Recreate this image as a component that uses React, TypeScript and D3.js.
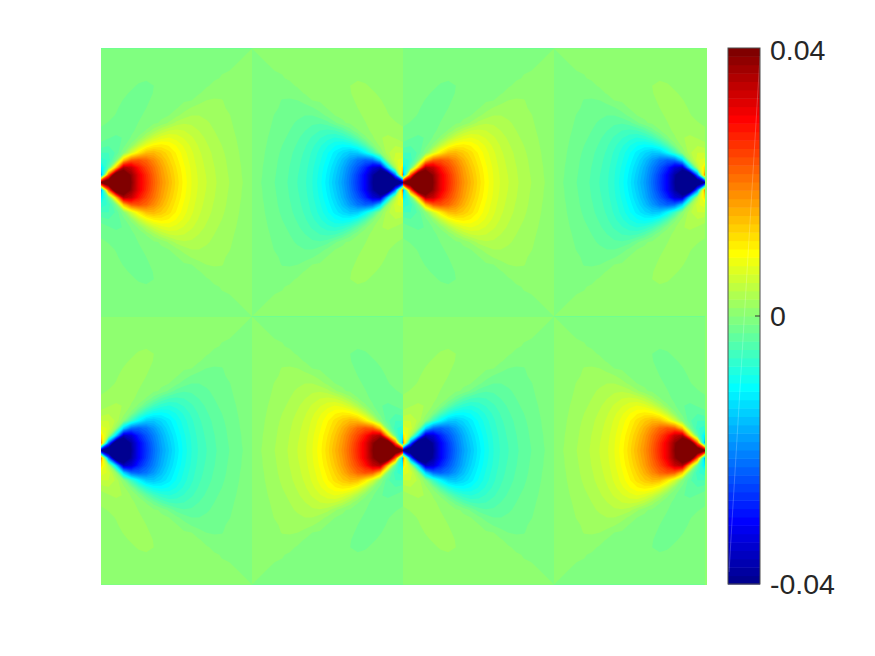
import * as d3 from 'd3';
import React from 'react';

// One quarter of a tile in units of 1e-3.
// Rows go from the top edge of the tile down to the line through the tip, columns from the tip side outwards.
const quarterField: number[][] = [
  [-.1, -.1, -.1, -.1, -.1, -.1, -.1, -.1, -.1, -.1, -.1, -.1, -.1, -.1, -.1, -.08, -.06, -.05, -.03, -.02, 0],
  [-.2, -.2, -.25, -.25, -.3, -.3, -.3, -.3, -.3, -.25, -.25, -.2, -.2, -.15, -.15, -.1, -.08, -.05, -.03, 0, .04],
  [-.3, -.3, -.35, -.4, -.45, -.5, -.5, -.5, -.45, -.4, -.35, -.3, -.25, -.2, -.15, -.1, -.07, -.04, 0, .08, .08],
  [-.4, -.45, -.5, -.6, -.7, -.8, -.85, -.8, -.65, -.5, -.4, -.3, -.25, -.2, -.15, -.1, -.05, 0, .15, .15, .1],
  [-.5, -.55, -.65, -.75, -.9, -1.05, -1.15, -1.05, -.8, -.55, -.4, -.3, -.25, -.2, -.15, -.1, .05, .3, .35, .25, .15],
  [-.6, -.65, -.75, -.9, -1.1, -1.35, -1.45, -1.25, -.85, -.55, -.4, -.3, -.25, -.2, -.1, .2, .5, .6, .5, .3, .2],
  [-.65, -.75, -.9, -1.1, -1.35, -1.6, -1.55, -1.2, -.75, -.5, -.35, -.25, -.2, -.1, .4, .9, 1, .9, .6, .4, .2],
  [-.7, -.85, -1, -1.3, -1.6, -1.65, -1.45, -1, -.65, -.4, -.25, -.15, 0, .8, 1.3, 1.4, 1.3, 1, .7, .5, .2],
  [-.8, -.95, -1.15, -1.5, -1.7, -1.6, -1.25, -.8, -.45, -.25, -.1, .6, 1.4, 1.8, 1.8, 1.6, 1.4, 1.1, .8, .5, .2],
  [-.9, -1.05, -1.3, -1.7, -1.75, -1.45, -1, -.55, -.2, 0, .9, 1.9, 2.5, 2.5, 2.2, 1.9, 1.6, 1.3, .9, .6, .2],
  [-1.1, -1.3, -1.6, -1.9, -1.7, -1.2, -.7, -.25, .2, 1.5, 3, 3.6, 3.5, 3.1, 2.7, 2.2, 1.8, 1.4, 1, .6, .2],
  [-1.4, -1.7, -2, -2.1, -1.6, -.8, .1, 1.9, 3.8, 5, 5.3, 5, 4.4, 3.7, 3.1, 2.5, 2, 1.5, 1.1, .7, .2],
  [-1.9, -2.4, -2.8, -2.4, -1.1, .3, 3, 5.5, 7, 7.6, 7, 6.1, 5.2, 4.3, 3.5, 2.8, 2.2, 1.7, 1.2, .7, .2],
  [-3, -3.6, -3.4, -1.7, .4, 4.5, 8, 10, 10.5, 9.8, 8.6, 7.2, 5.9, 4.8, 3.9, 3.1, 2.5, 1.9, 1.3, .8, .2],
  [-5, -5, -3.5, 0, 6, 11, 14.5, 15, 13.5, 11.8, 9.8, 8, 6.5, 5.2, 4.3, 3.4, 2.7, 2.1, 1.4, .9, .2],
  [-7, -6, -1, 14, 22, 23, 21.5, 18.5, 15.5, 12.8, 10.5, 8.5, 6.8, 5.5, 4.5, 3.6, 2.9, 2.2, 1.5, .9, .2],
  [-12, -3, 14, 36, 34, 28, 24, 20.5, 16.8, 13.8, 11.2, 9, 7.2, 5.7, 4.7, 3.8, 3, 2.3, 1.6, 1, .2],
  [-20, 22, 50, 46, 38, 31, 26, 21.5, 17.5, 14.5, 11.7, 9.3, 7.4, 5.9, 4.9, 3.9, 3.1, 2.4, 1.7, 1, .2],
  [40, 50, 50, 46, 39, 31, 26.5, 22, 18, 15, 12, 9.5, 7.5, 6, 5, 4, 3.2, 2.5, 1.8, 1.1, .2],
];

const tileRows = [0, 1];
const tileCols = [0, 1, 2, 3];
const colorbarTicks = [-40, 0, 40];
const tickLabels = ['-0.04', '0', '0.04'];

const jetStops = [0, 1 / 8, 3 / 8, 5 / 8, 7 / 8, 1];
const jetColors = ['#000080', '#0000ff', '#00ffff', '#ffff00', '#ff0000', '#800000'];
const levelCount = 64;

const plot = { left: 101, right: 707, top: 48, bottom: 585 };
const tiles = { left: 101, right: 705, top: 48.5, bottom: 584.5 };
const bar = { left: 728, right: 760, top: 48, bottom: 584 };

const jet = d3.scaleLinear<string>().domain(jetStops).range(jetColors);
const levels = d3.range(levelCount);
const levelColor = (k: number) => jet((k + 1) / levelCount);
const edge = d3.scaleLinear().domain([0, levelCount]).range([-40, 40]);

const nCols = quarterField[0].length;
const nRows = quarterField.length * 2 - 1;

// whole tile: the quarter and its mirror image below the tip line
const tileRowsData = [...quarterField, ...quarterField.slice(0, -1).reverse()];
const tileValues = tileRowsData.flat();

const contourMaker = d3.contours()
  .size([nCols, nRows])
  .thresholds(levels.slice(1).map((k) => edge(k)));

const positiveBands = contourMaker(tileValues);
const negativeBands = contourMaker(tileValues.map((v) => -v));

const tileX = d3.scaleLinear().domain([0, 4]).range([tiles.left, tiles.right]);
const tileY = d3.scaleLinear().domain([0, 2]).range([tiles.top, tiles.bottom]);
const tileW = tileX(1) - tileX(0);
const tileH = tileY(1) - tileY(0);

// d3.contours puts sample i at i + 0.5
const gridX = d3.scaleLinear().domain([0.5, nCols - 0.5]).range([0, tileW]);
const gridY = d3.scaleLinear().domain([0.5, nRows - 0.5]).range([0, tileH]);
const tilePath = d3.geoPath(d3.geoTransform({
  point(x: number, y: number) {
    (this as any).stream.point(gridX(x), gridY(y));
  },
}));

const positivePaths = positiveBands.map((b) => tilePath(b as any) || '');
const negativePaths = negativeBands.map((b) => tilePath(b as any) || '');

const barY = d3.scaleLinear().domain([-40, 40]).range([bar.bottom, bar.top]);

const TileBands = ({ paths }: { paths: string[] }) => (
  <g>
    <rect x={-1} y={-1} width={tileW + 2} height={tileH + 2} fill={levelColor(0)} />
    {paths.map((d, i) => (
      <path key={i} d={d} fill={levelColor(i + 1)} />
    ))}
  </g>
);

export default function App() {
  return (
    <svg width={875} height={656} style={{ position: 'absolute', left: 0, top: 0, background: '#fff' }}>
      <defs>
        <clipPath id="tileClip">
          <rect x={0} y={0} width={tileW} height={tileH} />
        </clipPath>
      </defs>

      <rect
        x={plot.left}
        y={plot.top}
        width={plot.right - plot.left}
        height={plot.bottom - plot.top}
        fill={levelColor(levelCount / 2)}
      />

      {tileRows.map((r) => tileCols.map((c) => {
        const flipped = c % 2 === 1;
        const positive = (r + c) % 2 === 0;
        const tx = flipped ? tileX(c + 1) : tileX(c);
        return (
          <g key={`${r}-${c}`} transform={`translate(${tx},${tileY(r)}) scale(${flipped ? -1 : 1},1)`} clipPath="url(#tileClip)">
            <TileBands paths={positive ? positivePaths : negativePaths} />
          </g>
        );
      }))}

      {/* colorbar */}
      <g>
        {levels.map((k) => (
          <rect
            key={k}
            x={bar.left}
            y={barY(edge(k + 1))}
            width={bar.right - bar.left}
            height={barY(edge(k)) - barY(edge(k + 1)) + 0.5}
            fill={levelColor(k)}
          />
        ))}
        {/* faint seam of the colorbar image */}
        <line x1={729} y1={572} x2={760} y2={56} stroke="#fff" strokeOpacity={0.22} strokeWidth={1} />
        <rect
          x={bar.left}
          y={bar.top}
          width={bar.right - bar.left}
          height={bar.bottom - bar.top}
          fill="none"
          stroke="#4d4d4d"
          strokeWidth={1}
        />
        {colorbarTicks.map((t, i) => (
          <g key={t}>
            {t === 0 && <line x1={bar.right - 5} x2={bar.right} y1={barY(t)} y2={barY(t)} stroke="#333" />}
            <text
              x={bar.right + 10}
              y={barY(t) + (t > 0 ? 2 : 0)}
              fontFamily="'Liberation Sans', Arial, sans-serif"
              fontSize={28.5}
              fill="#262626"
              dominantBaseline="central"
            >
              {tickLabels[i]}
            </text>
          </g>
        ))}
      </g>
    </svg>
  );
}
